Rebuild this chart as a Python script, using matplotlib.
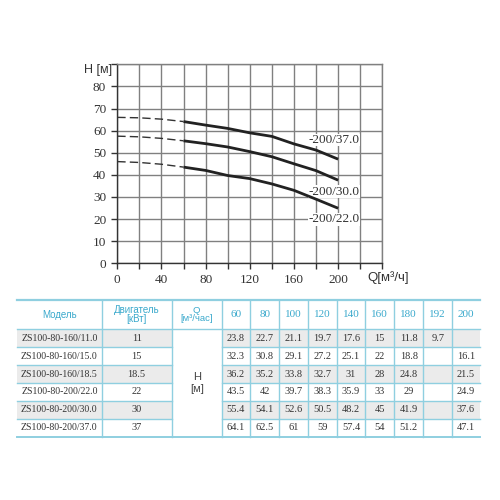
import matplotlib.pyplot as plt
from matplotlib.patches import Rectangle

# данные таблицы
models = ["ZS100-80-160/11.0", "ZS100-80-160/15.0", "ZS100-80-160/18.5",
          "ZS100-80-200/22.0", "ZS100-80-200/30.0", "ZS100-80-200/37.0"]
power = ["11", "15", "18.5", "22", "30", "37"]
q_cols = [60, 80, 100, 120, 140, 160, 180, 192, 200]
h_table = [
    [23.8, 22.7, 21.1, 19.7, 17.6, 15, 11.8, 9.7, None],
    [32.3, 30.8, 29.1, 27.2, 25.1, 22, 18.8, None, 16.1],
    [36.2, 35.2, 33.8, 32.7, 31, 28, 24.8, None, 21.5],
    [43.5, 42, 39.7, 38.3, 35.9, 33, 29, None, 24.9],
    [55.4, 54.1, 52.6, 50.5, 48.2, 45, 41.9, None, 37.6],
    [64.1, 62.5, 61, 59, 57.4, 54, 51.2, None, 47.1],
]

# кривые на графике (пунктир 0..60, сплошная 60..200)
q_dash = [0, 20, 40, 60]
dash_22 = [46.0, 45.6, 44.8, 43.5]
dash_30 = [57.5, 57.2, 56.5, 55.4]
dash_37 = [66.0, 65.8, 65.2, 64.1]
q_solid = [60, 80, 100, 120, 140, 160, 180, 200]
curve_labels = ["-200/22.0", "-200/30.0", "-200/37.0"]
label_y = [19.9, 32.4, 55.8]

serif = "Liberation Serif"
sans = "Liberation Sans"
teal = "#3aa9cc"
line_c = "#8fcfe0"

fig = plt.figure(figsize=(5, 5), dpi=100)

ax = fig.add_axes([117.3 / 500, 1 - 263.3 / 500, 265 / 500, 199 / 500])
ax.set_xlim(0, 240)
ax.set_ylim(0, 90)
ax.set_xticks(range(0, 241, 20))
ax.set_xticklabels([str(v) if v % 40 == 0 and v <= 200 else "" for v in range(0, 241, 20)])
ax.set_yticks(range(0, 91, 10))
ax.set_yticklabels([str(v) if v <= 80 else "" for v in range(0, 91, 10)])
ax.grid(True, color="#808080", lw=1.0)
ax.set_axisbelow(True)
for s in ax.spines.values():
    s.set_color("#808080")
    s.set_linewidth(1.0)
ax.spines["left"].set_color("#333333")
ax.spines["bottom"].set_color("#333333")
ax.tick_params(length=4, width=1, color="#333333", pad=4, labelsize=9.5, labelcolor="#333333")
for lab in ax.get_xticklabels() + ax.get_yticklabels():
    lab.set_fontfamily(serif)

solid_rows = [h_table[3], h_table[4], h_table[5]]
dashes = [dash_22, dash_30, dash_37]
for i in range(3):
    sv = [v for v in solid_rows[i] if v is not None]
    ax.plot(q_dash, dashes[i], color="#333333", lw=1.0, ls=(0, (6, 3)), zorder=4)
    ax.plot(q_solid, sv, color="#222222", lw=2.0, solid_capstyle="butt", zorder=4)
    ax.text(173.5, label_y[i], curve_labels[i], fontfamily=serif, fontsize=9.5,
            color="#333333", va="center", ha="left", zorder=3,
            bbox=dict(facecolor="white", edgecolor="none", pad=0.3))

fig.text(84 / 500, 1 - 70 / 500, "H [м]", fontfamily=sans, fontsize=9,
         color="#333333", va="center", ha="left")
fig.text(367 / 500, 1 - 278 / 500, "Q[м³/ч]", fontfamily=sans, fontsize=9.5,
         color="#333333", va="center", ha="left")

# таблица
tb = fig.add_axes([0, 0, 1, 1])
tb.set_xlim(0, 500)
tb.set_ylim(500, 0)
tb.axis("off")
tb.patch.set_visible(False)

col_x = [17, 101.7, 171.7, 221.7, 250, 279.3, 307.7, 336.7, 365.3, 394, 423.3, 452, 480]
top = 300
head_b = 329.3
rh = 17.9
bottom = head_b + rh * len(models)

for r in range(len(models)):
    if r % 2 == 0:
        y0 = head_b + r * rh
        tb.add_patch(Rectangle((col_x[0], y0), col_x[2] - col_x[0], rh, color="#ebebeb", lw=0))
        tb.add_patch(Rectangle((col_x[3], y0), col_x[-1] - col_x[3], rh, color="#ebebeb", lw=0))

tb.plot([col_x[0], col_x[-1]], [top, top], color=line_c, lw=1.6)
tb.plot([col_x[0], col_x[-1]], [head_b, head_b], color=line_c, lw=1.0)
for r in range(1, len(models) + 1):
    y = head_b + r * rh
    if r < len(models):
        tb.plot([col_x[0], col_x[2]], [y, y], color=line_c, lw=1.0)
        tb.plot([col_x[3], col_x[-1]], [y, y], color=line_c, lw=1.0)
    else:
        tb.plot([col_x[0], col_x[-1]], [y, y], color=line_c, lw=1.4)
for x in col_x[1:-1]:
    tb.plot([x, x], [top, bottom], color=line_c, lw=1.0)

hy = (top + head_b) / 2
tb.text((col_x[0] + col_x[1]) / 2, hy, "Модель", fontfamily=sans, fontsize=7,
        color=teal, ha="center", va="center")
tb.text((col_x[1] + col_x[2]) / 2, hy, "Двигатель\n[кВт]", fontfamily=sans, fontsize=7,
        color=teal, ha="center", va="center", linespacing=0.85)
tb.text((col_x[2] + col_x[3]) / 2, hy, "Q\n[м³/час]", fontfamily=sans, fontsize=6.8,
        color=teal, ha="center", va="center", linespacing=0.85)
for j, q in enumerate(q_cols):
    tb.text((col_x[3 + j] + col_x[4 + j]) / 2, hy, str(q), fontfamily=serif, fontsize=8,
            color=teal, ha="center", va="center")

tb.text((col_x[2] + col_x[3]) / 2, (head_b + bottom) / 2, "H\n[м]", fontfamily=sans,
        fontsize=8, color="#444444", ha="center", va="center")

for r, m in enumerate(models):
    yc = head_b + (r + 0.5) * rh
    tb.text((col_x[0] + col_x[1]) / 2, yc, m, fontfamily=serif, fontsize=7,
            color="#333333", ha="center", va="center")
    tb.text((col_x[1] + col_x[2]) / 2, yc, power[r], fontfamily=serif, fontsize=7.5,
            color="#333333", ha="center", va="center")
    for j, v in enumerate(h_table[r]):
        if v is None:
            continue
        tb.text((col_x[3 + j] + col_x[4 + j]) / 2, yc, f"{v:g}", fontfamily=serif,
                fontsize=7.5, color="#333333", ha="center", va="center")

fig.savefig("out.png", dpi=100, facecolor="white")
